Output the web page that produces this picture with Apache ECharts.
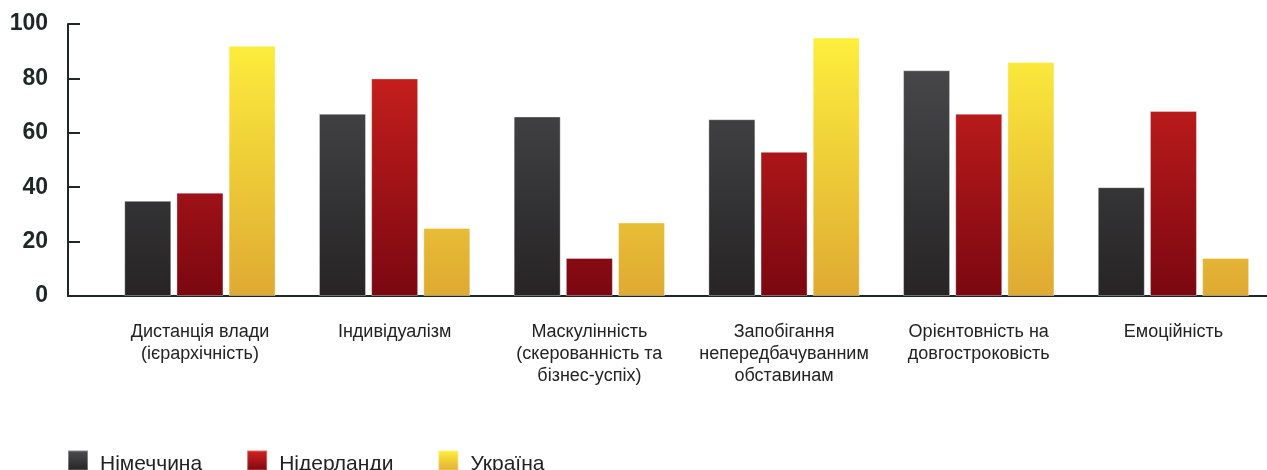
<!DOCTYPE html>
<html>
<head>
<meta charset="utf-8">
<script src="https://cdn.jsdelivr.net/npm/echarts@6/dist/echarts.min.js"></script>
<style>
  html, body { margin: 0; padding: 0; background: #ffffff; }
  #chart { width: 1267px; height: 470px; }
</style>
</head>
<body>
<div id="chart"></div>
<script>
// Hofstede cultural dimensions: Germany, Netherlands, Ukraine
const categories = [
  'Дистанція влади\n(ієрархічність)',
  'Індивідуалізм',
  'Маскулінність\n(скерованність та\nбізнес-успіх)',
  'Запобігання\nнепередбачуванним\nобставинам',
  'Орієнтовність на\nдовгостроковість',
  'Емоційність'
];
const seriesNames = ['Німеччина', 'Нідерланди', 'Україна'];
const germany = [35, 67, 66, 65, 83, 40];
const netherlands = [38, 80, 14, 53, 67, 68];
const ukraine = [92, 25, 27, 95, 86, 14];
const yTicks = [0, 20, 40, 60, 80, 100];

const PLOT_TOP = 24, PLOT_BOTTOM = 296;
const palettes = [
  ['#4d4e50', '#262425'],
  ['#d6241f', '#7b0711'],
  ['#fff23d', '#dfaa33']
];
function globalGrad(p) {
  return { type: 'linear', x: 0, y: PLOT_TOP, x2: 0, y2: PLOT_BOTTOM, global: true,
    colorStops: [{ offset: 0, color: p[0] }, { offset: 1, color: p[1] }] };
}
function localGrad(p) {
  return { type: 'linear', x: 0, y: 0, x2: 0, y2: 1,
    colorStops: [{ offset: 0, color: p[0] }, { offset: 1, color: p[1] }] };
}

const values = [germany, netherlands, ukraine];
const font = '"Liberation Sans", Arial, Helvetica, sans-serif';

const chart = echarts.init(document.getElementById('chart'), null, { renderer: 'canvas' });
chart.setOption({
  backgroundColor: '#ffffff',
  animation: false,
  textStyle: { fontFamily: font },
  grid: [
    { left: 68, right: 0, top: PLOT_TOP, height: PLOT_BOTTOM - PLOT_TOP, outerBoundsMode: 'none' },
    { left: 102.6, width: 1168.2, top: PLOT_TOP, height: PLOT_BOTTOM - PLOT_TOP, outerBoundsMode: 'none' }
  ],
  xAxis: [
    { gridIndex: 0, type: 'value', min: 0, max: 1,
      axisLine: { show: true, lineStyle: { color: '#1e2826', width: 2 } },
      axisTick: { show: false }, axisLabel: { show: false }, splitLine: { show: false } },
    { gridIndex: 1, type: 'category', data: categories,
      axisLine: { show: false }, axisTick: { show: false }, splitLine: { show: false },
      axisLabel: { interval: 0, margin: 25, color: '#222222', fontSize: 18, lineHeight: 22,
        fontFamily: font, align: 'center', verticalAlign: 'top' } }
  ],
  yAxis: [
    { gridIndex: 0, type: 'value', min: 0, max: 100, interval: 20,
      axisLine: { show: true, lineStyle: { color: '#1e2826', width: 2 } },
      axisTick: { show: true, inside: true, length: 12, lineStyle: { color: '#1e2826', width: 2 } },
      splitLine: { show: false },
      axisLabel: { margin: 20, color: '#1e2826', fontSize: 23, fontWeight: 'bold', fontFamily: font,
        formatter: v => (yTicks.indexOf(v) >= 0 ? String(v) : '') } },
    { gridIndex: 1, type: 'value', min: 0, max: 100, interval: 20, show: false }
  ],
  legend: {
    left: 67, top: 446, padding: 0, itemWidth: 20, itemHeight: 20, itemGap: 44, icon: 'rect',
    formatter: name => '{t|' + name + '}',
    textStyle: {
      fontSize: 21, color: '#222222', fontFamily: font,
      rich: { t: { fontSize: 21, lineHeight: 22, color: '#222222', fontFamily: font, padding: [8, 0, 0, 7] } }
    },
    data: seriesNames.map((n, i) => ({ name: n, itemStyle: { color: localGrad(palettes[i]) } }))
  },
  series: seriesNames.map((n, i) => ({
    name: n, type: 'bar', xAxisIndex: 1, yAxisIndex: 1,
    barWidth: 47, barGap: '11%',
    itemStyle: { color: globalGrad(palettes[i]), borderColor: 'rgba(255,255,255,0.35)', borderWidth: 1 },
    data: values[i]
  }))
});
</script>
</body>
</html>
